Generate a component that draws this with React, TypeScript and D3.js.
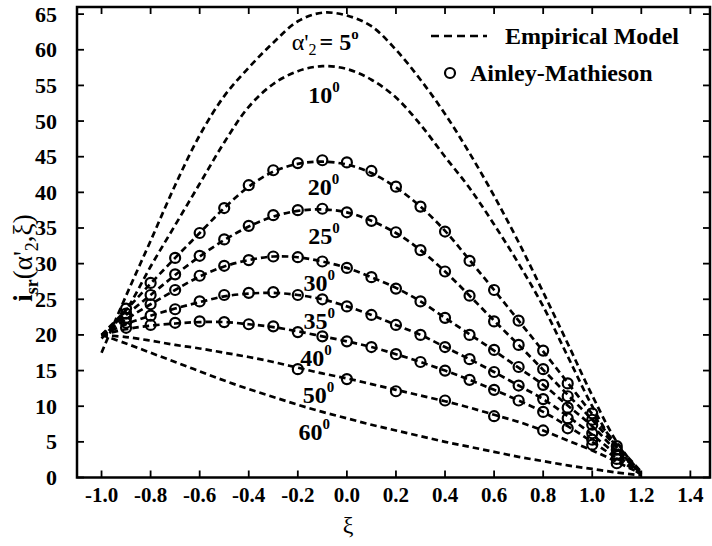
import React from "react";
import * as d3 from "d3";

// ξ sample positions shared by every empirical-model curve
const XI = [-1.0, -0.9, -0.8, -0.7, -0.6, -0.5, -0.4, -0.3, -0.2, -0.1, 0.0, 0.1, 0.2, 0.3, 0.4, 0.5, 0.6, 0.7, 0.8, 0.9, 1.0, 1.1, 1.2];

// Empirical model, one array per exit angle α'2 (degrees)
const ANGLES = [5, 10, 20, 25, 30, 35, 40, 50, 60];
const model5 = [17.5, 25.5, 33.2, 41.0, 48.0, 53.5, 57.5, 61.0, 64.0, 65.2, 64.8, 63.3, 60.0, 55.8, 51.0, 45.5, 39.5, 33.0, 26.0, 18.8, 11.5, 5.0, 0.5];
const model10 = [19.5, 23.5, 29.6, 35.4, 41.2, 47.0, 52.0, 55.2, 57.0, 57.7, 57.3, 55.8, 53.3, 49.5, 45.0, 40.6, 35.5, 30.0, 24.0, 17.0, 10.0, 4.2, 0.4];
const model20 = [20.0, 23.5, 27.2, 30.8, 34.3, 37.8, 40.8, 42.9, 44.0, 44.3, 43.9, 42.7, 40.7, 38.0, 34.6, 30.5, 26.3, 22.0, 17.7, 13.3, 8.9, 4.6, 0.8];
const model25 = [20.0, 22.8, 25.6, 28.4, 31.0, 33.3, 35.2, 36.6, 37.4, 37.6, 37.2, 36.0, 34.3, 31.9, 28.9, 25.5, 22.0, 18.6, 15.1, 11.6, 8.1, 4.2, 0.7];
const model30 = [20.0, 22.2, 24.3, 26.3, 28.2, 29.6, 30.5, 31.0, 30.9, 30.3, 29.4, 28.1, 26.6, 24.7, 22.4, 20.1, 17.8, 15.4, 13.0, 10.1, 7.2, 3.7, 0.6];
const model35 = [20.0, 21.5, 22.7, 23.7, 24.6, 25.4, 25.8, 25.9, 25.6, 25.0, 24.0, 22.8, 21.4, 20.0, 18.3, 16.6, 14.8, 12.9, 11.0, 8.6, 6.0, 3.2, 0.5];
const model40 = [20.0, 20.8, 21.3, 21.6, 21.8, 21.8, 21.5, 21.1, 20.5, 19.8, 19.1, 18.3, 17.3, 16.2, 15.0, 13.7, 12.3, 10.8, 9.2, 7.2, 5.0, 2.7, 0.4];
const model50 = [20.0, 19.7, 19.2, 18.6, 18.1, 17.5, 16.9, 16.2, 15.4, 14.6, 13.9, 13.1, 12.3, 11.5, 10.7, 9.8, 8.8, 7.8, 6.6, 5.2, 3.8, 2.2, 0.5];
const model60 = [20.0, 18.8, 17.5, 16.2, 14.9, 13.6, 12.4, 11.3, 10.2, 9.2, 8.3, 7.4, 6.6, 5.8, 5.0, 4.3, 3.6, 2.9, 2.3, 1.7, 1.2, 0.7, 0.3];
const MODELS = [model5, model10, model20, model25, model30, model35, model40, model50, model60];

// Ainley-Mathieson correlation points
const AM_XI = [-0.9, -0.8, -0.7, -0.6, -0.5, -0.4, -0.3, -0.2, -0.1, 0.0, 0.1, 0.2, 0.3, 0.4, 0.5, 0.6, 0.7, 0.8, 0.9, 1.0, 1.1];
const am20 = [23.7, 27.3, 30.8, 34.3, 37.8, 41.0, 43.1, 44.1, 44.5, 44.2, 43.0, 40.8, 38.0, 34.5, 30.4, 26.3, 22.0, 17.8, 13.2, 9.0, 4.4];
const am25 = [23.0, 25.6, 28.5, 31.1, 33.4, 35.3, 36.8, 37.5, 37.7, 37.2, 36.0, 34.4, 31.9, 28.9, 25.5, 21.9, 18.6, 15.2, 11.4, 8.1, 3.9];
const am30 = [22.4, 24.3, 26.3, 28.3, 29.7, 30.5, 31.0, 30.9, 30.3, 29.4, 28.1, 26.5, 24.7, 22.4, 20.0, 17.9, 15.5, 13.0, 9.8, 7.4, 3.2];
const am35 = [21.7, 22.7, 23.6, 24.7, 25.6, 25.9, 26.0, 25.6, 25.0, 24.0, 22.8, 21.4, 20.0, 18.3, 16.6, 14.8, 12.9, 11.0, 8.3, 6.2, 2.6];
const am40 = [21.0, 21.4, 21.7, 21.9, 21.8, 21.5, 21.2, 20.4, 19.8, 19.1, 18.3, 17.3, 16.2, 15.0, 13.7, 12.3, 10.8, 9.2, 6.9, 5.3, 2.0];
const AM_XI50 = [-0.2, 0.0, 0.2, 0.4, 0.6, 0.8, 1.0];
const am50 = [15.2, 13.8, 12.1, 10.8, 8.6, 6.6, 4.6];

// Curve annotations: anchor (ξ, value) of each angle label
const LABEL_TEXT = ["10", "20", "25", "30", "35", "40", "50", "60"];
const LABEL_XI = [-0.157, -0.16, -0.157, -0.177, -0.177, -0.19, -0.18, -0.197];
const LABEL_VAL = [52.5, 39.6, 32.8, 26.1, 20.9, 15.6, 10.4, 5.3];

const X_TICKS = [-1.0, -0.8, -0.6, -0.4, -0.2, 0.0, 0.2, 0.4, 0.6, 0.8, 1.0, 1.2, 1.4];
const Y_TICKS = [0, 5, 10, 15, 20, 25, 30, 35, 40, 45, 50, 55, 60, 65];

const W = 712;
const H = 546;
const FONT = "'Liberation Serif', 'Times New Roman', serif";

export default function App() {
  const left = 77, right = 710, top = 7, bottom = 477.5;
  const x = d3.scaleLinear().domain([-1.1, 1.48]).range([left, right]);
  const y = d3.scaleLinear().domain([0, 66]).range([bottom, top]);

  const line = d3
    .line<[number, number]>()
    .x((d) => x(d[0]))
    .y((d) => y(d[1]))
    .curve(d3.curveCatmullRom.alpha(0.5));

  const amSets: [number[], number[]][] = [
    [AM_XI, am20],
    [AM_XI, am25],
    [AM_XI, am30],
    [AM_XI, am35],
    [AM_XI, am40],
    [AM_XI50, am50],
  ];

  const dash = "6.5,4";

  return (
    <svg
      width={W}
      height={H}
      style={{ position: "absolute", left: 0, top: 0, background: "#fff" }}
      fontFamily={FONT}
    >
      <rect x={0} y={0} width={W} height={H} fill="#fff" />

      {/* empirical model curves */}
      {MODELS.map((vals, i) => (
        <path
          key={"m" + ANGLES[i]}
          d={line(XI.map((xi, j) => [xi, vals[j]] as [number, number])) || ""}
          fill="none"
          stroke="#000"
          strokeWidth={2.7}
          strokeDasharray={dash}
        />
      ))}

      {/* Ainley-Mathieson points */}
      {amSets.map(([xs, vs], i) =>
        xs.map((xi, j) => (
          <circle
            key={"c" + i + "-" + j}
            cx={x(xi)}
            cy={y(vs[j])}
            r={5}
            fill="none"
            stroke="#000"
            strokeWidth={2.2}
          />
        ))
      )}

      {/* frame */}
      <rect x={left} y={top} width={right - left} height={bottom - top} fill="none" stroke="#000" strokeWidth={2.5} />

      {/* ticks */}
      {X_TICKS.map((t) => (
        <g key={"xt" + t}>
          <line x1={x(t)} x2={x(t)} y1={bottom} y2={bottom - 7} stroke="#000" strokeWidth={1.8} />
          <line x1={x(t)} x2={x(t)} y1={top} y2={top + 7} stroke="#000" strokeWidth={1.8} />
          <text x={x(t)} y={502} textAnchor="middle" fontSize={21} fontWeight="bold">
            {t.toFixed(1)}
          </text>
        </g>
      ))}
      {Y_TICKS.map((t) => (
        <g key={"yt" + t}>
          <line x1={left} x2={left + 7} y1={y(t)} y2={y(t)} stroke="#000" strokeWidth={1.8} />
          <line x1={right} x2={right - 7} y1={y(t)} y2={y(t)} stroke="#000" strokeWidth={1.8} />
          <text x={57} y={y(t) + 7.5} textAnchor="end" fontSize={22} fontWeight="bold">
            {t}
          </text>
        </g>
      ))}

      {/* axis titles */}
      <text x={348} y={533} textAnchor="middle" fontSize={24}>
        ξ
      </text>
      <text transform="translate(32,258) rotate(-90)" textAnchor="middle" fontSize={27} fontWeight="bold">
        i<tspan fontSize={18} dy={6}>sr</tspan>
        <tspan dy={-6} fontWeight="normal">(α'</tspan>
        <tspan fontSize={18} dy={6} fontWeight="normal">2</tspan>
        <tspan dy={-6} fontWeight="normal">,ξ)</tspan>
      </text>

      {/* curve labels */}
      <text x={x(-0.225)} y={y(59.9)} fontSize={24} fontWeight="bold">
        <tspan fontWeight="normal">α'</tspan>
        <tspan fontSize={16} dy={5} fontWeight="normal">2</tspan>
        <tspan dy={-5} dx={3}>= 5</tspan>
        <tspan fontSize={15} dy={-11}>o</tspan>
      </text>
      {LABEL_TEXT.map((s, i) => (
        <text key={"l" + s} x={x(LABEL_XI[i])} y={y(LABEL_VAL[i])} fontSize={24} fontWeight="bold">
          {s}
          <tspan fontSize={15} dy={-11}>0</tspan>
        </text>
      ))}

      {/* legend */}
      <line x1={431} x2={487} y1={36} y2={36} stroke="#000" strokeWidth={2.7} strokeDasharray="8,5" />
      <text x={505} y={44} fontSize={24} fontWeight="bold">Empirical Model</text>
      <circle cx={450} cy={73} r={5} fill="none" stroke="#000" strokeWidth={2.2} />
      <text x={470} y={81} fontSize={24} fontWeight="bold">Ainley-Mathieson</text>
    </svg>
  );
}
